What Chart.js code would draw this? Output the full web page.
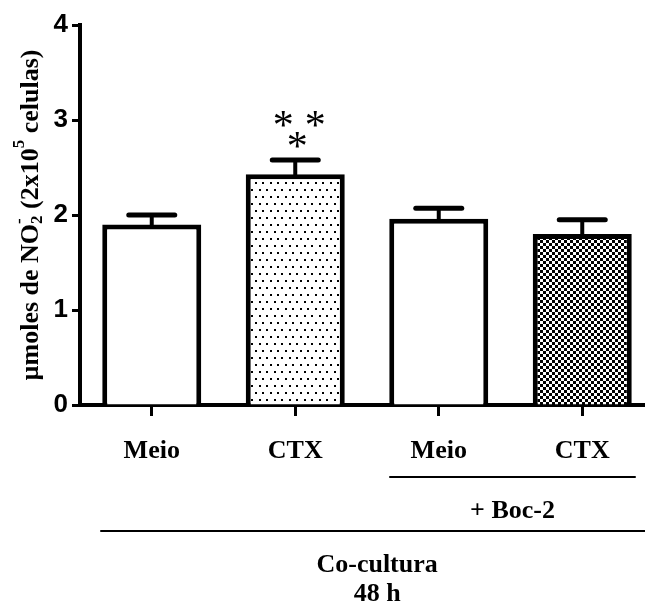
<!DOCTYPE html>
<html>
<head>
<meta charset="utf-8">
<script src="https://cdn.jsdelivr.net/npm/chart.js@4.4.0/dist/chart.umd.min.js"></script>
<style>
  html, body { margin: 0; padding: 0; overflow: hidden; background: #fff; }
  #wrap { width: 654px; height: 605px; }
</style>
</head>
<body>
<div id="wrap"><canvas id="bar-chart"></canvas></div>
<script>
// data
const categories = ['Meio', 'CTX', 'Meio', 'CTX'];
const means = [1.90, 2.43, 1.96, 1.80];
const sem = [0.10, 0.15, 0.11, 0.15];
const yTicks = [0, 1, 2, 3, 4];
const stars = ['*', '*', '*'];
const starBar = 1;

const serif = '"Liberation Serif", "Times New Roman", serif';
const sans = '"Liberation Sans", Arial, sans-serif';

// fill patterns
function dotPattern() {
    const c = document.createElement('canvas');
    c.width = 15; c.height = 14;
    const g = c.getContext('2d');
    g.fillStyle = '#fff'; g.fillRect(0, 0, 15, 14);
    g.fillStyle = '#000';
    g.fillRect(0, 0, 2, 2); g.fillRect(7, 0, 2, 2);
    g.fillRect(4, 7, 2, 2); g.fillRect(11, 7, 2, 2);
    return g.createPattern(c, 'repeat');
}
function checkPattern() {
    const c = document.createElement('canvas');
    c.width = 6; c.height = 6;
    const g = c.getContext('2d');
    g.fillStyle = '#fff'; g.fillRect(0, 0, 6, 6);
    g.fillStyle = '#000';
    g.fillRect(0, 0, 3, 3); g.fillRect(3, 3, 3, 3);
    return g.createPattern(c, 'repeat');
}

const errorBars = {
    id: 'errorBars',
    afterDatasetsDraw(chart) {
        const ctx = chart.ctx;
        const y = chart.scales.y;
        const meta = chart.getDatasetMeta(0);
        ctx.save();
        ctx.strokeStyle = '#000';
        meta.data.forEach((bar, i) => {
            const top = y.getPixelForValue(means[i] + sem[i]);
            ctx.lineWidth = 4;
            ctx.lineCap = 'butt';
            ctx.beginPath();
            ctx.moveTo(bar.x, bar.y + 2);
            ctx.lineTo(bar.x, top);
            ctx.stroke();
            ctx.lineWidth = 5;
            ctx.lineCap = 'round';
            ctx.beginPath();
            ctx.moveTo(bar.x - 23, top);
            ctx.lineTo(bar.x + 23, top);
            ctx.stroke();
        });
        // significance marks
        const b = meta.data[starBar];
        const capY = y.getPixelForValue(means[starBar] + sem[starBar]);
        ctx.fillStyle = '#000';
        ctx.font = '42px ' + serif;
        ctx.textAlign = 'center';
        ctx.textBaseline = 'middle';
        ctx.fillText(stars[0], b.x - 12, capY - 32);
        ctx.fillText(stars[1], b.x + 20, capY - 32);
        ctx.fillText(stars[2], b.x + 2, capY - 11);
        ctx.restore();
    }
};

const extraText = {
    id: 'extraText',
    afterDraw(chart) {
        const ctx = chart.ctx;
        const area = chart.chartArea;
        const meta = chart.getDatasetMeta(0);
        const bars = meta.data;
        ctx.save();
        ctx.fillStyle = '#000';
        ctx.strokeStyle = '#000';

        // y axis title with sub/superscripts
        ctx.translate(29, (area.top + area.bottom) / 2);
        ctx.rotate(-Math.PI / 2);
        const big = 'bold 26px ' + serif;
        const small = 'bold 17px ' + serif;
        const parts = [
            ['µmoles de NO', big, 0],
            ['2', small, 7],
            ['-', small, -11, true],
            [' (2x10', big, 0],
            ['5', small, -11],
            [' celulas)', big, 0]
        ];
        let total = 0;
        parts.forEach(p => { ctx.font = p[1]; if (!p[3]) total += ctx.measureText(p[0]).width; });
        let x = -total / 2;
        ctx.textBaseline = 'middle';
        ctx.textAlign = 'left';
        let lastX = x;
        parts.forEach(p => {
            ctx.font = p[1];
            const w = ctx.measureText(p[0]).width;
            if (p[3]) {
                ctx.fillText(p[0], lastX, p[2] + 2);
            } else {
                lastX = x;
                ctx.fillText(p[0], x, p[2] + 2);
                x += w;
            }
        });
        ctx.setTransform(1, 0, 0, 1, 0, 0);

        // group lines and labels
        const left3 = bars[2].x - bars[2].width / 2;
        const right4 = bars[3].x + bars[3].width / 2 + 4;
        ctx.lineWidth = 2;
        ctx.beginPath();
        ctx.moveTo(left3, 477); ctx.lineTo(right4, 477);
        ctx.stroke();
        const left1 = bars[0].x - bars[0].width / 2 - 2;
        ctx.beginPath();
        ctx.moveTo(left1, 531); ctx.lineTo(area.right + 10, 531);
        ctx.stroke();

        ctx.font = 'bold 26px ' + serif;
        ctx.textAlign = 'center';
        ctx.textBaseline = 'middle';
        ctx.fillText('+ Boc-2', (left3 + right4) / 2, 511);
        const mid = (left1 + area.right) / 2;
        ctx.fillText('Co-cultura', mid, 565);
        ctx.fillText('48 h', mid, 594);
        ctx.restore();
    }
};

const ctx = document.getElementById('bar-chart');
new Chart(ctx, {
    type: 'bar',
    data: {
        labels: categories,
        datasets: [{
            data: means,
            backgroundColor: ['#fff', dotPattern(), '#fff', checkPattern()],
            borderColor: '#000',
            borderWidth: 5,
            barPercentage: 0.69,
            categoryPercentage: 1.0
        }]
    },
    options: {
        responsive: true,
        maintainAspectRatio: false,
        animation: false,
        layout: { padding: { top: 25, right: 0, left: 0, bottom: 0 } },
        plugins: {
            legend: { display: false },
            tooltip: { enabled: false }
        },
        scales: {
            x: {
                afterFit(scale) { scale.height = 200; },
                grid: {
                    display: true, drawOnChartArea: false, offset: false,
                    tickLength: 11, tickWidth: 3, tickColor: '#000'
                },
                border: { display: true, color: '#000', width: 4 },
                ticks: {
                    color: '#000', padding: 20,
                    font: { family: serif, size: 26, weight: 'bold' }
                }
            },
            y: {
                min: 0,
                max: 4,
                afterFit(scale) { scale.width = 80; },
                afterBuildTicks(scale) { scale.ticks = yTicks.map(v => ({ value: v })); },
                grid: {
                    display: true, drawOnChartArea: false,
                    tickLength: 8, tickWidth: 3, tickColor: '#000'
                },
                border: { display: true, color: '#000', width: 4 },
                ticks: {
                    color: '#000', padding: 4,
                    font: { family: sans, size: 26, weight: 'bold' }
                }
            }
        }
    },
    plugins: [errorBars, extraText]
});
</script>
</body>
</html>
